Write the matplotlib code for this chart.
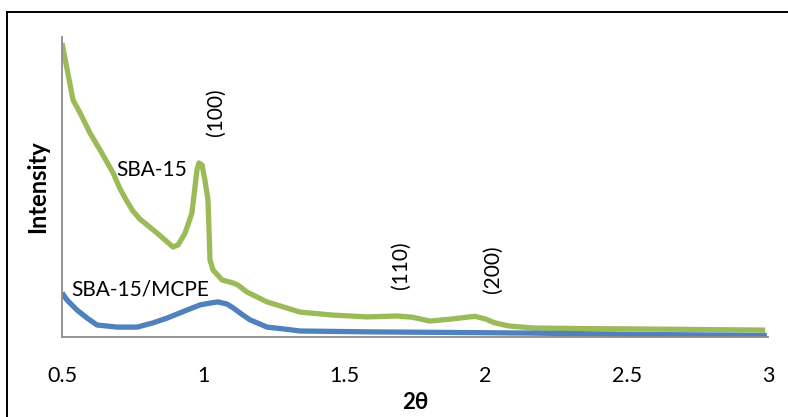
import matplotlib
matplotlib.use("Agg")
import matplotlib.pyplot as plt
from matplotlib.lines import Line2D

plt.rcParams['font.family'] = ['Lato', 'DejaVu Sans']

# SBA-15 low-angle XRD pattern
sba_2theta = [0.5, 0.52, 0.539, 0.564, 0.599, 0.635, 0.681, 0.705, 0.727, 0.751,
              0.776, 0.836, 0.893, 0.911, 0.936, 0.960, 0.978, 0.985, 0.996, 1.006,
              1.017, 1.021, 1.024, 1.035, 1.067, 1.106, 1.123, 1.155, 1.226, 1.343,
              1.46, 1.58, 1.686, 1.74, 1.803, 1.88, 1.962, 2.0, 2.03, 2.08, 2.168,
              2.35, 2.52, 2.75, 2.99]
sba_intensity = [98, 88.3, 79, 74.7, 68, 62.3, 54.7, 49.5, 45.7, 42,
                 39.3, 34.7, 30, 30.7, 34.7, 41.3, 55.7, 58, 57.3, 52.3,
                 45.7, 34.7, 25.7, 22.3, 19, 18, 17.3, 15, 11.7, 8.3,
                 7.3, 6.7, 7.0, 6.6, 5.3, 6.0, 6.9, 6.0, 4.8, 3.7, 3.0,
                 2.8, 2.7, 2.5, 2.3]

# SBA-15/MCPE pattern
mcpe_2theta = [0.5, 0.518, 0.553, 0.589, 0.624, 0.695, 0.766, 0.822, 0.872, 0.943,
               0.989, 1.024, 1.052, 1.084, 1.106, 1.141, 1.166, 1.226, 1.283, 1.343,
               1.6, 1.9, 2.168, 2.5, 2.996]
mcpe_intensity = [14.7, 12.3, 9.0, 6.3, 4.0, 3.3, 3.3, 4.7, 6.3, 9.0,
                  10.7, 11.3, 11.7, 11.0, 9.7, 7.3, 5.7, 3.3, 2.7, 2.0,
                  1.7, 1.5, 1.3, 0.9, 0.5]

xticks = [0.5, 1, 1.5, 2, 2.5, 3]
xtick_labels = ['0.5', '1', '1.5', '2', '2.5', '3']

# Miller index labels: (text, x, y)
peak_labels = [('(100)', 1.045, 75), ('(110)', 1.70, 24), ('(200)', 2.025, 22.5)]

fig = plt.figure(figsize=(7.88, 4.17), dpi=100)
ax = fig.add_axes([62 / 788, 1 - 337 / 417, (768 - 62) / 788, 300 / 417])

ax.plot(sba_2theta, sba_intensity, color='#9BBB59', lw=3.8,
        solid_capstyle='butt', solid_joinstyle='round')
ax.plot(mcpe_2theta, mcpe_intensity, color='#4F81BD', lw=3.8,
        solid_capstyle='butt', solid_joinstyle='round')

ax.set_xlim(0.5, 3)
ax.set_ylim(0, 100)
ax.set_xticks(xticks)
ax.set_xticklabels(xtick_labels, fontsize=15.5)
ax.set_yticks([])
ax.tick_params(axis='x', length=0, pad=21)

for side in ['top', 'right']:
    ax.spines[side].set_visible(False)
for side in ['left', 'bottom']:
    ax.spines[side].set_color('#8C8C8C')
    ax.spines[side].set_linewidth(1.3)

ax.set_xlabel('2θ', fontsize=16, fontweight='bold', labelpad=4)
ax.set_ylabel('Intensity', fontsize=17, fontweight='bold', labelpad=9)

ax.text(0.818, 55.7, 'SBA-15', fontsize=15, ha='center', va='center')
ax.text(0.777, 16, 'SBA-15/MCPE', fontsize=15, ha='center', va='center')
for label, x, y in peak_labels:
    ax.text(x, y, label, fontsize=15, rotation=90, ha='center', va='center')

# outer frame
fig.add_artist(Line2D([7 / 788, 1], [1 - 12 / 417, 1 - 12 / 417],
                      transform=fig.transFigure, color='black', lw=1.4))
fig.add_artist(Line2D([7 / 788, 7 / 788], [0, 1 - 12 / 417],
                      transform=fig.transFigure, color='black', lw=1.4))

fig.savefig('out.png', dpi=100)
